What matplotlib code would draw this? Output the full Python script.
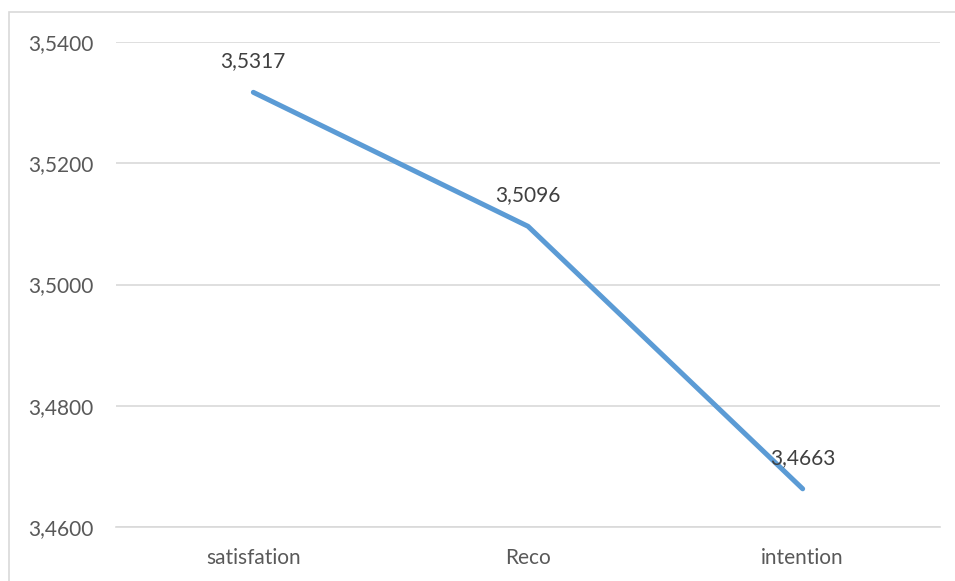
import matplotlib.pyplot as plt
from matplotlib.patches import Rectangle

categories = ['satisfation', 'Reco', 'intention']
values = [3.5317, 3.5096, 3.4663]
y_ticks = [3.46, 3.48, 3.50, 3.52, 3.54]


def fmt(v):
    return f'{v:.4f}'.replace('.', ',')


def main():
    plt.rcParams['font.family'] = ['Lato', 'DejaVu Sans']
    W, H = 955, 581
    fig = plt.figure(figsize=(W / 100, H / 100), dpi=100)
    ax = fig.add_axes([116 / W, 1 - 527 / H, (940 - 116) / W, (527 - 42) / H])

    # chart border (only top/left visible, image cropped)
    fig.patches.append(Rectangle((9 / W, -0.1), 1.2, 1 - 12 / H + 0.1,
                                 transform=fig.transFigure, fill=False,
                                 edgecolor='#D9D9D9', linewidth=1.2))

    x = list(range(len(categories)))
    ax.plot(x, values, color='#5B9BD5', linewidth=3.6, solid_capstyle='round',
            solid_joinstyle='round', zorder=3)
    for xi, v in zip(x, values):
        ax.annotate(fmt(v), (xi, v), xytext=(0, 15), textcoords='offset points',
                    ha='center', va='bottom', fontsize=15, color='#404040', zorder=4)

    ax.set_xlim(-0.5, len(categories) - 0.5)
    ax.set_ylim(y_ticks[0], y_ticks[-1])
    ax.set_yticks(y_ticks)
    ax.set_yticklabels([fmt(t) for t in y_ticks])
    ax.set_xticks(x)
    ax.set_xticklabels(categories)
    ax.tick_params(axis='both', length=0, labelsize=15, colors='#595959')
    ax.tick_params(axis='y', pad=16)
    ax.tick_params(axis='x', pad=15)
    ax.grid(axis='y', color='#D9D9D9', linewidth=1.2)
    ax.set_axisbelow(True)
    for side in ['top', 'right', 'left']:
        ax.spines[side].set_visible(False)
    ax.spines['bottom'].set_color('#D9D9D9')
    ax.spines['bottom'].set_linewidth(1.2)

    fig.savefig('out.png', dpi=100)
    plt.close(fig)


if __name__ == '__main__':
    main()
